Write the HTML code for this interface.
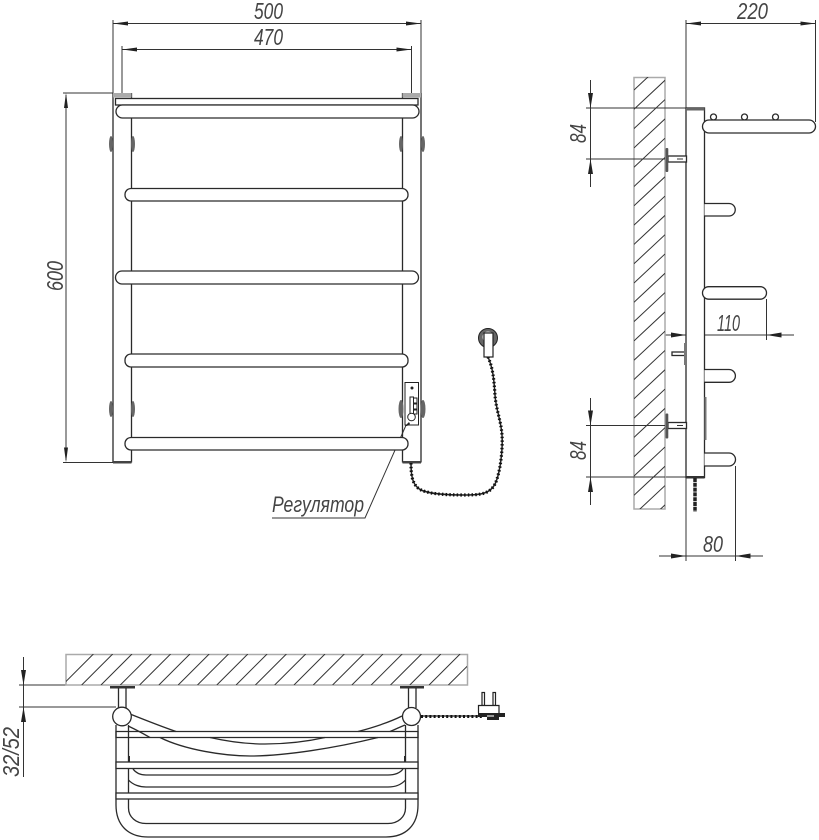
<!DOCTYPE html>
<html><head><meta charset="utf-8"><style>
html,body{margin:0;padding:0;background:#fff}
svg{display:block}
text{font-family:"Liberation Sans",sans-serif;font-style:italic;fill:#444;font-size:23px}
</style></head><body>
<svg width="819" height="840" viewBox="0 0 819 840" xmlns="http://www.w3.org/2000/svg">
<defs>
<clipPath id="w1"><rect x="634" y="77" width="31" height="432"/></clipPath>
<clipPath id="w2"><rect x="66" y="654" width="401" height="31"/></clipPath>
</defs>
<g fill="none" stroke="#333" stroke-width="1">
<!-- dims front -->
<path d="M113 20V93M421 20V93M122 46V93M411.500 46V93M113 23.500H421M122 49.500H411.500"/>
<path d="M63 93H113M63 462.500H113M66 95V460"/>
<!-- dims side -->
<path d="M686 20V108M815.500 20V122M686 23.500H815.500"/>
<path d="M586 108H686M586 159H695M590.500 80V187"/>
<path d="M586 425.500H695M586 477H686M590.500 398V505"/>
<path d="M659 335H794M766.500 299V340"/>
<path d="M686 477V561M735.500 466V561M659 556H763"/>
<!-- dims bottom -->
<path d="M19 685H66M19 707H116M23.500 657V777"/>
<!-- leader -->
<path d="M407 423L365 518H272"/>
</g>
<!-- arrowheads -->
<g fill="#222">
<path d="M113 23.500l15-2v4zM421 23.500l-15-2v4zM122 49.500l15-2v4zM411.500 49.500l-15-2v4z"/>
<path d="M66 93l-2 15h4zM66 462.500l-2-15h4z"/>
<path d="M686 23.500l15-2v4zM815.500 23.500l-15-2v4z"/>
<path d="M590.500 108l-2.500-15h5zM590.500 159l-2.500 15h5zM590.500 425.500l-2.500-15h5zM590.500 477l-2.500 15h5z"/>
<path d="M686 335l-15-2.500v5zM766.500 335l15-2.500v5zM686 556l-15-2.500v5zM735.500 556l15-2.500v5z"/>
<path d="M23.500 685l-2.500-15h5zM23.500 707l-2.500 15h5z"/>
</g>
<!-- FRONT VIEW -->
<g fill="#fff" stroke="#2a2a2a" stroke-width="1.300">
<path d="M113 93V462.500M131.500 93V462.500M402.500 93V462.500M421 93V462.500"/>
<rect x="113" y="93" width="18.500" height="4.500" fill="#aaa" stroke="none"/>
<rect x="402.500" y="93" width="18.500" height="4.500" fill="#aaa" stroke="none"/>
<rect x="115.500" y="98.500" width="302.500" height="6.500"/>
<rect x="116" y="105" width="303" height="13" rx="6.500"/>
<rect x="125" y="188.500" width="283" height="12.500" rx="6"/>
<rect x="115.500" y="271" width="303" height="13" rx="6.500"/>
<rect x="125" y="354" width="283" height="13" rx="6"/>
<rect x="125" y="437.500" width="283" height="12.500" rx="6"/>
</g>
<g fill="#666">
<ellipse cx="111" cy="144" rx="2" ry="8"/><ellipse cx="133" cy="144" rx="2" ry="8"/>
<ellipse cx="401" cy="144" rx="2" ry="8"/><ellipse cx="423" cy="144" rx="2" ry="8"/>
<ellipse cx="111" cy="409" rx="2" ry="8"/><ellipse cx="133" cy="409" rx="2" ry="8"/>
<ellipse cx="401" cy="409" rx="2.500" ry="9"/><ellipse cx="423" cy="409" rx="2.500" ry="9"/>
</g>
<rect x="113" y="461" width="18.500" height="2.500" fill="#444"/>
<rect x="402.500" y="461" width="18.500" height="2.500" fill="#444"/>
<!-- regulator -->
<g fill="#fff" stroke="#222" stroke-width="1">
<rect x="405" y="382.500" width="13.500" height="42.500"/>
<rect x="410" y="397" width="3.500" height="17"/>
<path d="M413.500 398h3.500v5h-3.500M413.500 404h3.500v5h-3.500M413.500 410h3.500v4h-3.500" fill="none"/>
<circle cx="411.500" cy="417" r="3.800"/>
<circle cx="412" cy="388" r="1" fill="#222"/>
</g>
<path d="M405 426l4-4 1 2-3 2z" fill="#222"/>
<!-- cord front -->
<path d="M411 463C411 474 412 483 418 488C425 494 445 495 465 495C480 495 490 494 495 484C500 474 503 450 502 435C501 420 496 410 495 395C494 380 493 368 488 357" fill="none" stroke="#222" stroke-width="1.500"/>
<path d="M411 463C411 474 412 483 418 488C425 494 445 495 465 495C480 495 490 494 495 484C500 474 503 450 502 435C501 420 496 410 495 395C494 380 493 368 488 357" fill="none" stroke="#111" stroke-width="3.200" stroke-dasharray="1.500 2.200"/>
<!-- plug front -->
<circle cx="488" cy="338" r="9.500" fill="#666" stroke="#222"/>
<circle cx="488" cy="337" r="5.500" fill="#ddd"/>
<rect x="484" y="333" width="9" height="24" fill="#fff" stroke="#222" stroke-width="1.200"/>
<!-- labels -->
<text x="254" y="19" textLength="29" lengthAdjust="spacingAndGlyphs">500</text>
<text x="254" y="45" textLength="29" lengthAdjust="spacingAndGlyphs">470</text>
<text x="737" y="19" textLength="31" lengthAdjust="spacingAndGlyphs">220</text>
<text x="717" y="331" textLength="23" lengthAdjust="spacingAndGlyphs">110</text>
<text x="703" y="552" textLength="20" lengthAdjust="spacingAndGlyphs">80</text>
<text x="272" y="512" textLength="92" lengthAdjust="spacingAndGlyphs" style="font-size:22px">Регулятор</text>
<text transform="translate(63,291) rotate(-90)" textLength="30" lengthAdjust="spacingAndGlyphs">600</text>
<text transform="translate(586,143) rotate(-90)" textLength="19" lengthAdjust="spacingAndGlyphs">84</text>
<text transform="translate(586,460) rotate(-90)" textLength="19" lengthAdjust="spacingAndGlyphs">84</text>
<text transform="translate(19,777) rotate(-90)" textLength="50" lengthAdjust="spacingAndGlyphs">32/52</text>
<!-- SIDE VIEW -->
<rect x="634" y="77.500" width="31" height="431.500" fill="#fff" stroke="#aaa" stroke-width="1.500"/>
<g clip-path="url(#w1)"><path fill="none" stroke="#333" stroke-width="1" d="M634 90l31-29M634 109.300l31-29M634 128.600l31-29M634 147.900l31-29M634 167.200l31-29M634 186.500l31-29M634 205.800l31-29M634 225.100l31-29M634 244.400l31-29M634 263.700l31-29M634 283l31-29M634 302.300l31-29M634 321.600l31-29M634 340.900l31-29M634 360.200l31-29M634 379.500l31-29M634 398.800l31-29M634 418.100l31-29M634 437.400l31-29M634 456.700l31-29M634 476l31-29M634 495.300l31-29M634 514.600l31-29M634 533.900l31-29"/></g>
<path d="M586 108H686M586 159H665M586 425.500H665M586 477H665" stroke="#333" stroke-width="1"/>
<g fill="#fff" stroke="#2a2a2a" stroke-width="1.300">
<rect x="686" y="108" width="18.500" height="369.500"/>
<circle cx="713.500" cy="117" r="3"/><circle cx="744.500" cy="117" r="3"/><circle cx="775.500" cy="117" r="3"/>
<rect x="702.500" y="120" width="113" height="13" rx="6.500"/>
<path d="M704.500 203.500H729a6.250 6.250 0 0 1 0 12.500H704.500"/>
<rect x="702.500" y="286.700" width="64" height="12.500" rx="6.200"/>
<path d="M704.500 369.500H729a6.400 6.400 0 0 1 0 12.800H704.500"/>
<path d="M704.500 453H729a6.500 6.500 0 0 1 0 13H704.500"/>
<rect x="668" y="156" width="18.500" height="6"/>
<rect x="668" y="422.500" width="18.500" height="6"/>
<rect x="672" y="352" width="14" height="3.500"/>
</g>
<rect x="686" y="108" width="18.500" height="2.500" fill="#666"/>
<rect x="686" y="476" width="18.500" height="2.500" fill="#333"/>
<rect x="665.500" y="148" width="2.800" height="24" rx="1" fill="#555"/>
<rect x="665.500" y="413.500" width="2.800" height="25" rx="1" fill="#555"/>
<rect x="684" y="343" width="3" height="22" fill="#777"/>
<rect x="704.500" y="397" width="2" height="43" fill="#777"/>
<path d="M695 478V512" fill="none" stroke="#222" stroke-width="3.500" stroke-dasharray="4 .8"/>
<path d="M677 159H683M677 425.500H683" stroke="#333"/>
<!-- BOTTOM VIEW -->
<rect x="66" y="654.500" width="401.500" height="30.500" fill="#fff" stroke="#aaa" stroke-width="1.500"/>
<g clip-path="url(#w2)"><path fill="none" stroke="#333" stroke-width="1" d="M62.400 685l31-31M81.700 685l31-31M101 685l31-31M120.300 685l31-31M139.600 685l31-31M158.900 685l31-31M178.200 685l31-31M197.500 685l31-31M216.800 685l31-31M236.100 685l31-31M255.400 685l31-31M274.700 685l31-31M294 685l31-31M313.300 685l31-31M332.600 685l31-31M351.900 685l31-31M371.200 685l31-31M390.500 685l31-31M409.800 685l31-31M429.100 685l31-31M448.400 685l31-31M467.700 685l31-31"/></g>
<rect x="110" y="686" width="25" height="2.500" fill="#333"/>
<rect x="400" y="686" width="24" height="2.500" fill="#333"/>
<g fill="none" stroke="#2a2a2a" stroke-width="1.300">
<path d="M118.500 688V708M126 688V708M408.500 688V708M416 688V708"/>
<path d="M116 725V805C116 825 128 837 148 837H386C406 837 418 825 418 805V725"/>
<path d="M128.500 725V808C128.500 817 136 823.500 146 823.500H388C398 823.500 405.500 817 405.500 808V725"/>
<path d="M130 714C145 720 160 726 176 731.500M210 737.500C230 742 248 744 265 744C285 744 305 742 325 737.500M358 731.500C375 727 390 722 402 716"/>
<path d="M128 726C135 729 142 733 150 737.500M160 737.500C185 750 225 756 250 756C285 756 335 748 378 737.500M390 731.500C396 729 400 727 405 725"/>
<path d="M133 769C136 773 140 775 146 775H388C395 775 400 773 403 769"/>
<path d="M128.500 780C133 785 140 787 146 787H388C395 787 401 785 405.500 780"/>
<path d="M129 756V762M405 756V762" stroke-width="2"/>
</g>
<g fill="#fff" stroke="#2a2a2a" stroke-width="1.300">
<path d="M116 731.500H418V737.500H116Z" fill="none"/>
<rect x="116" y="762" width="302" height="6.500"/>
<rect x="116" y="793" width="302" height="6"/>
<circle cx="122" cy="716.500" r="9.300"/>
<circle cx="411.500" cy="716.500" r="9"/>
</g>
<path d="M421 716H482" fill="none" stroke="#222" stroke-width="1.200"/>
<path d="M421 716.500H482" fill="none" stroke="#111" stroke-width="3" stroke-dasharray="2 2.200"/>
<g fill="#fff" stroke="#222" stroke-width="1.200">
<rect x="482" y="692.500" width="2.500" height="13"/>
<rect x="493" y="692.500" width="2.500" height="13"/>
<path d="M478.500 713V705.500H499V713"/>
</g>
<path d="M478 713H505V717H499V720H487V717H478z" fill="#222"/>
<rect x="487" y="715" width="7" height="2" fill="#999"/>
</svg>
</body></html>
